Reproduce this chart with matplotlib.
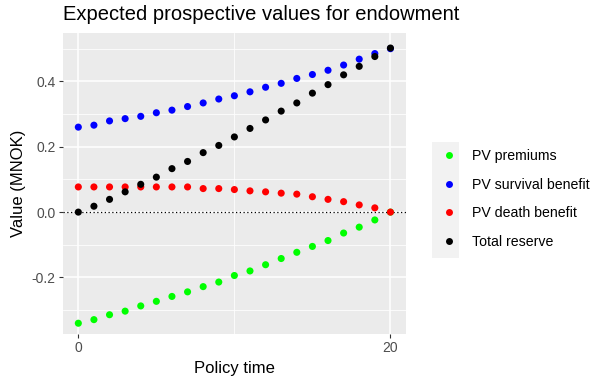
import matplotlib.pyplot as plt
from matplotlib.patches import Rectangle
from matplotlib.lines import Line2D

plt.rcParams['font.family'] = ['Liberation Sans', 'DejaVu Sans']

# policy time 0..20
policy_time = list(range(21))

pv_premiums = [-0.340, -0.329, -0.314, -0.303, -0.287, -0.273, -0.258, -0.244,
               -0.228, -0.214, -0.194, -0.180, -0.161, -0.142, -0.123, -0.105,
               -0.087, -0.064, -0.046, -0.024, 0.000]
pv_survival = [0.260, 0.266, 0.279, 0.286, 0.293, 0.304, 0.312, 0.323, 0.334,
               0.346, 0.356, 0.368, 0.382, 0.394, 0.409, 0.421, 0.434, 0.450,
               0.468, 0.485, 0.500]
pv_death = [0.077, 0.077, 0.077, 0.077, 0.077, 0.077, 0.077, 0.077, 0.072,
            0.072, 0.069, 0.065, 0.062, 0.058, 0.055, 0.047, 0.039, 0.032,
            0.022, 0.013, 0.000]
total_reserve = [0.000, 0.018, 0.039, 0.062, 0.085, 0.107, 0.133, 0.155, 0.182,
                 0.204, 0.230, 0.256, 0.282, 0.309, 0.334, 0.364, 0.390, 0.420,
                 0.446, 0.476, 0.502]

series = [
    ('PV premiums', pv_premiums, '#00FF00'),
    ('PV survival benefit', pv_survival, '#0000FF'),
    ('PV death benefit', pv_death, '#FF0000'),
    ('Total reserve', total_reserve, '#000000'),
]

fig = plt.figure(figsize=(5.9, 3.8), dpi=100)
ax = fig.add_axes([0.1063, 0.121, 0.5819, 0.7913])
ax.set_facecolor('#EBEBEB')

ax.axhline(0, color='black', linestyle=(0, (1, 2)), linewidth=0.9, zorder=2)
for name, vals, col in series:
    ax.scatter(policy_time, vals, s=26, color=col, edgecolors='none', zorder=3)

ax.set_xlim(-1, 21)
ax.set_ylim(-0.373, 0.547)
ax.set_xticks([0, 20])
ax.set_xticks([10], minor=True)
ax.set_yticks([-0.2, 0.0, 0.2, 0.4])
ax.set_yticklabels(['-0.2', '0.0', '0.2', '0.4'])
ax.set_yticks([-0.3, -0.1, 0.1, 0.3, 0.5], minor=True)
ax.grid(which='major', color='white', linewidth=1.1)
ax.grid(which='minor', color='white', linewidth=0.55)
ax.set_axisbelow(True)
for sp in ax.spines.values():
    sp.set_visible(False)
ax.tick_params(which='major', length=3, color='#333333', labelcolor='#4D4D4D',
               labelsize=10, pad=2)
ax.tick_params(which='minor', length=0)

ax.set_xlabel('Policy time', fontsize=12, labelpad=4)
ax.set_ylabel('Value (MNOK)', fontsize=12, labelpad=4)
fig.text(0.1063, 0.963, 'Expected prospective values for endowment',
         fontsize=14.5, ha='left', va='center')

# legend
fig.patches.append(Rectangle((432 / 590, 1 - 258 / 380), 27 / 590, 116 / 380,
                             transform=fig.transFigure, facecolor='#F2F2F2',
                             edgecolor='none', zorder=0))
handles = [Line2D([], [], linestyle='none', marker='o', markersize=5,
                  markerfacecolor=col, markeredgecolor='none', label=name)
           for name, vals, col in series]
fig.legend(handles=handles, loc='center left',
           bbox_to_anchor=(436 / 590, 1 - 199 / 380), frameon=False,
           fontsize=10.2, handlelength=1.0, handletextpad=1.15,
           labelspacing=1.05, borderaxespad=0)

fig.savefig('out.png', dpi=100)
